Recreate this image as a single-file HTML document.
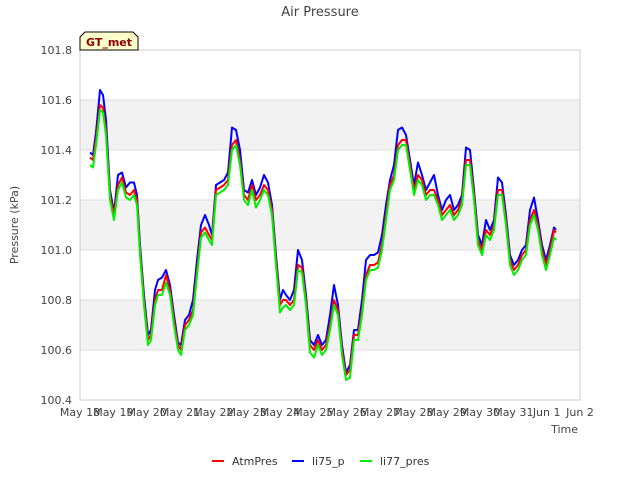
<!DOCTYPE html>
<html><head><meta charset="utf-8"><style>
body{margin:0;background:#fff;font-family:"Liberation Sans","DejaVu Sans",sans-serif;}
svg text{font-family:"DejaVu Sans","Liberation Sans",sans-serif;}
</style></head><body>
<svg id="chart" width="640" height="480" viewBox="0 0 640 480">
<text x="320" y="16" text-anchor="middle" font-size="13" fill="#444">Air Pressure</text>
<g id="bands"></g><g id="grid"></g>
<rect x="80" y="50" width="500" height="350" fill="none" stroke="#ccc"/>
<g id="yticks"></g><g id="xticks"></g><g id="series"></g>
<text x="18" y="225" transform="rotate(-90 18 225)" text-anchor="middle" font-size="11" fill="#444">Pressure (kPa)</text>
<text x="578" y="433" text-anchor="end" font-size="11" fill="#444">Time</text>
<g>
<path d="M80,50 L80,37 L85,32 L133,32 L138,37 L138,50 Z" fill="#ffffcc" stroke="#000"/>
<text x="109" y="46" text-anchor="middle" font-size="11" font-weight="bold" fill="#8b0000">GT_met</text></g>
<g id="legend"></g>
</svg>
<script>
const times=[];
const xPix=[90,93,96,100,103,106,110,114,118,122,126,130,134,137,140,144,148,151,155,158,162,166,170,174,178,181,185,189,193,197,201,205,209,212,216,220,224,228,232,236,240,244,248,252,256,260,264,268,272,276,280,283,286,290,294,298,302,306,310,314,318,322,326,330,334,338,342,346,350,354,358,362,366,370,374,378,382,386,390,394,398,402,406,410,414,418,422,426,430,434,438,442,446,450,454,458,462,466,470,474,478,482,486,490,494,498,502,506,510,514,518,522,526,530,534,538,542,546,550,554,556];
for(const p of xPix) times.push(+((p-80)*0.03).toFixed(2)); // days since May 18
const atmPres=[101.37,101.36,101.44,101.58,101.57,101.48,101.22,101.14,101.26,101.29,
101.23,101.22,101.24,101.20,101.00,100.80,100.64,100.66,100.80,100.84,
100.84,100.90,100.84,100.72,100.62,100.60,100.70,100.72,100.76,100.92,
101.07,101.09,101.06,101.04,101.24,101.25,101.26,101.28,101.42,101.44,
101.36,101.22,101.20,101.26,101.20,101.22,101.26,101.24,101.16,100.96,
100.78,100.80,100.80,100.78,100.80,100.94,100.93,100.80,100.62,100.60,
100.64,100.60,100.62,100.70,100.80,100.76,100.60,100.50,100.52,100.66,
100.66,100.76,100.90,100.94,100.94,100.95,101.02,101.14,101.26,101.30,
101.42,101.44,101.44,101.34,101.24,101.30,101.28,101.22,101.24,101.24,
101.20,101.14,101.16,101.18,101.14,101.16,101.20,101.36,101.36,101.22,
101.04,101.00,101.08,101.06,101.10,101.24,101.24,101.12,100.96,100.92,
100.94,100.98,101.00,101.12,101.16,101.10,101.00,100.94,101.00,101.08,101.07];
const li75p=[101.39,101.38,101.47,101.64,101.62,101.52,101.24,101.15,101.30,101.31,
101.25,101.27,101.27,101.22,101.02,100.82,100.66,100.68,100.84,100.88,
100.89,100.92,100.86,100.74,100.63,100.62,100.72,100.74,100.80,100.96,
101.10,101.14,101.10,101.06,101.26,101.27,101.28,101.31,101.49,101.48,
101.40,101.24,101.23,101.28,101.22,101.25,101.30,101.27,101.18,100.98,
100.80,100.84,100.82,100.80,100.84,101.00,100.96,100.82,100.64,100.62,
100.66,100.62,100.64,100.74,100.86,100.78,100.62,100.51,100.54,100.68,
100.68,100.80,100.96,100.98,100.98,100.99,101.06,101.18,101.28,101.34,
101.48,101.49,101.46,101.36,101.26,101.35,101.30,101.24,101.27,101.30,
101.22,101.16,101.20,101.22,101.16,101.18,101.22,101.41,101.40,101.24,
101.06,101.02,101.12,101.08,101.12,101.29,101.27,101.14,100.98,100.94,
100.96,101.00,101.02,101.16,101.21,101.12,101.02,100.96,101.02,101.09,101.08];
const li77pres=[101.34,101.33,101.42,101.56,101.55,101.46,101.20,101.12,101.24,101.27,
101.21,101.20,101.22,101.18,100.98,100.78,100.62,100.64,100.78,100.82,
100.82,100.87,100.82,100.70,100.60,100.58,100.68,100.70,100.74,100.90,
101.05,101.07,101.04,101.02,101.22,101.23,101.24,101.26,101.40,101.42,
101.34,101.20,101.18,101.24,101.17,101.20,101.24,101.22,101.14,100.94,
100.75,100.77,100.78,100.76,100.78,100.92,100.91,100.78,100.59,100.57,
100.62,100.58,100.60,100.68,100.78,100.74,100.58,100.48,100.49,100.64,
100.64,100.74,100.88,100.92,100.92,100.93,101.00,101.12,101.24,101.28,
101.40,101.42,101.42,101.32,101.22,101.28,101.26,101.20,101.22,101.22,
101.18,101.12,101.14,101.16,101.12,101.14,101.18,101.34,101.34,101.20,
101.02,100.98,101.06,101.04,101.08,101.22,101.22,101.10,100.94,100.90,
100.92,100.96,100.98,101.10,101.14,101.08,100.98,100.92,100.98,101.05,101.04];
const yTicks=[100.4,100.6,100.8,101.0,101.2,101.4,101.6,101.8];
const xTickLabels=["May 18","May 19","May 20","May 21","May 22","May 23","May 24","May 25","May 26","May 27","May 28","May 29","May 30","May 31","Jun 1","Jun 2"];
const seriesNames=["AtmPres","li75_p","li77_pres"];
const NS="http://www.w3.org/2000/svg";
const X=d=>80+d*500/15, Y=v=>400-(v-100.4)*350/1.4;
function mk(tag,attrs,parent){const e=document.createElementNS(NS,tag);for(const k in attrs)e.setAttribute(k,attrs[k]);document.getElementById(parent).appendChild(e);return e;}
for(let i=0;i<yTicks.length-1;i++){
 if(i%2===1){const r=mk('rect',{x:80,y:Y(yTicks[i+1]),width:500,height:Y(yTicks[i])-Y(yTicks[i+1]),fill:'#f2f2f2'},'bands');
 
 }
}
yTicks.forEach(v=>{
 const l=mk('line',{x1:80,x2:580,y1:Y(v),y2:Y(v),stroke:'#ddd'},'grid');
 
 
 const t=mk('text',{x:72,y:Y(v)+4,'text-anchor':'end','font-size':11,fill:'#444'},'yticks');
 
 
 t.textContent=v.toFixed(1);
});
xTickLabels.forEach((s,i)=>{
 const t=mk('text',{x:X(i),y:416,'text-anchor':'middle','font-size':11,fill:'#444'},'xticks');
 
 
 t.textContent=s;
});
const data=[atmPres,li75p,li77pres],cols=['#ff0000','#0000ff','#00ee00'],order=[1,0,2];
order.forEach(k=>{
 const p=mk('polyline',{points:times.map((d,i)=>X(d).toFixed(1)+','+Y(data[k][i]).toFixed(1)).join(' '),fill:'none',stroke:cols[k],'stroke-width':2,'stroke-linejoin':'round'},'series');
 
 
});
const lx=[212,292,360];
seriesNames.forEach((s,k)=>{
 const g=mk('g',{},'legend');
 
 
 const l=document.createElementNS(NS,'line');l.setAttribute('x1',lx[k]);l.setAttribute('x2',lx[k]+12);l.setAttribute('y1',461);l.setAttribute('y2',461);l.setAttribute('stroke',cols[k]);l.setAttribute('stroke-width',2);g.appendChild(l);
 const t=document.createElementNS(NS,'text');t.setAttribute('x',lx[k]+20);t.setAttribute('y',465);t.setAttribute('font-size',11);t.setAttribute('fill','#333');t.textContent=s;g.appendChild(t);
});
</script>
</body></html>
